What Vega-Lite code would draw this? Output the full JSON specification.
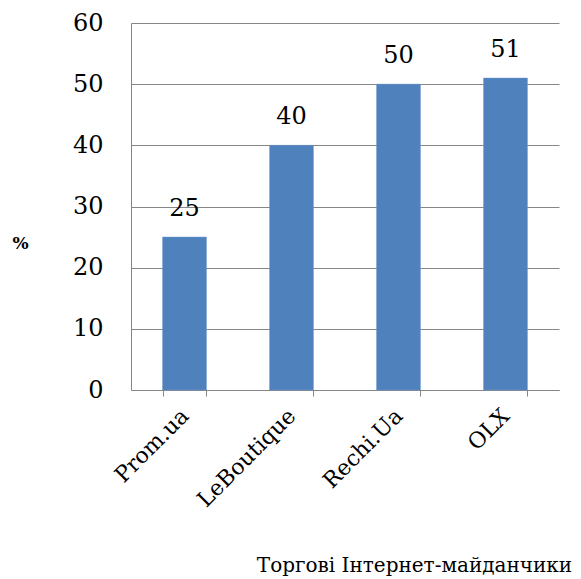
{
  "$schema": "https://vega.github.io/schema/vega-lite/v6.json",
  "width": 428,
  "height": 367,
  "autosize": {"type": "none"},
  "padding": {"left": 131, "top": 23, "right": 22, "bottom": 189},
  "background": "white",
  "config": {"view": {"stroke": null}, "font": "DejaVu Serif"},
  "data": {
    "values": [
      {"site": "Prom.ua", "value": 25},
      {"site": "LeBoutique", "value": 40},
      {"site": "Rechi.Ua", "value": 50},
      {"site": "OLX", "value": 51}
    ]
  },
  "encoding": {
    "x": {
      "field": "site",
      "type": "nominal",
      "sort": null,
      "scale": {"paddingInner": 0.59, "paddingOuter": 0.295},
      "axis": {
        "title": "Торгові Інтернет-майданчики",
        "titleFont": "DejaVu Serif",
        "titleFontSize": 20,
        "titleFontWeight": "normal",
        "titleColor": "black",
        "titleX": 283,
        "titleY": 175,
        "titleBaseline": "middle",
        "titleAlign": "center",
        "labelAngle": -45,
        "labelAlign": "right",
        "labelBaseline": "middle",
        "labelFont": "DejaVu Serif",
        "labelFontSize": 22,
        "labelColor": "black",
        "labelPadding": 16,
        "tickBand": "extent",
        "tickColor": "#868686",
        "tickSize": 6,
        "domainColor": "#868686",
        "grid": false
      }
    },
    "y": {
      "field": "value",
      "type": "quantitative",
      "scale": {"domain": [0, 60]},
      "axis": {
        "values": [0, 10, 20, 30, 40, 50, 60],
        "title": "%",
        "titleAngle": 0,
        "titleFont": "DejaVu Serif",
        "titleFontSize": 17,
        "titleFontWeight": "bold",
        "titleColor": "black",
        "titleX": -111,
        "titleY": 220,
        "titleAlign": "center",
        "titleBaseline": "middle",
        "labelFont": "DejaVu Serif",
        "labelFontSize": 24,
        "labelColor": "black",
        "labelPadding": 28,
        "ticks": false,
        "grid": true,
        "gridColor": "#868686",
        "domainColor": "#868686"
      }
    }
  },
  "layer": [
    {"mark": {"type": "bar", "color": "#4F81BD", "stroke": "#6A96CC", "strokeWidth": 0.5}},
    {
      "mark": {"type": "text", "baseline": "bottom", "dy": -16, "fontSize": 24, "font": "DejaVu Serif", "color": "black"},
      "encoding": {"text": {"field": "value", "type": "quantitative"}}
    }
  ]
}
